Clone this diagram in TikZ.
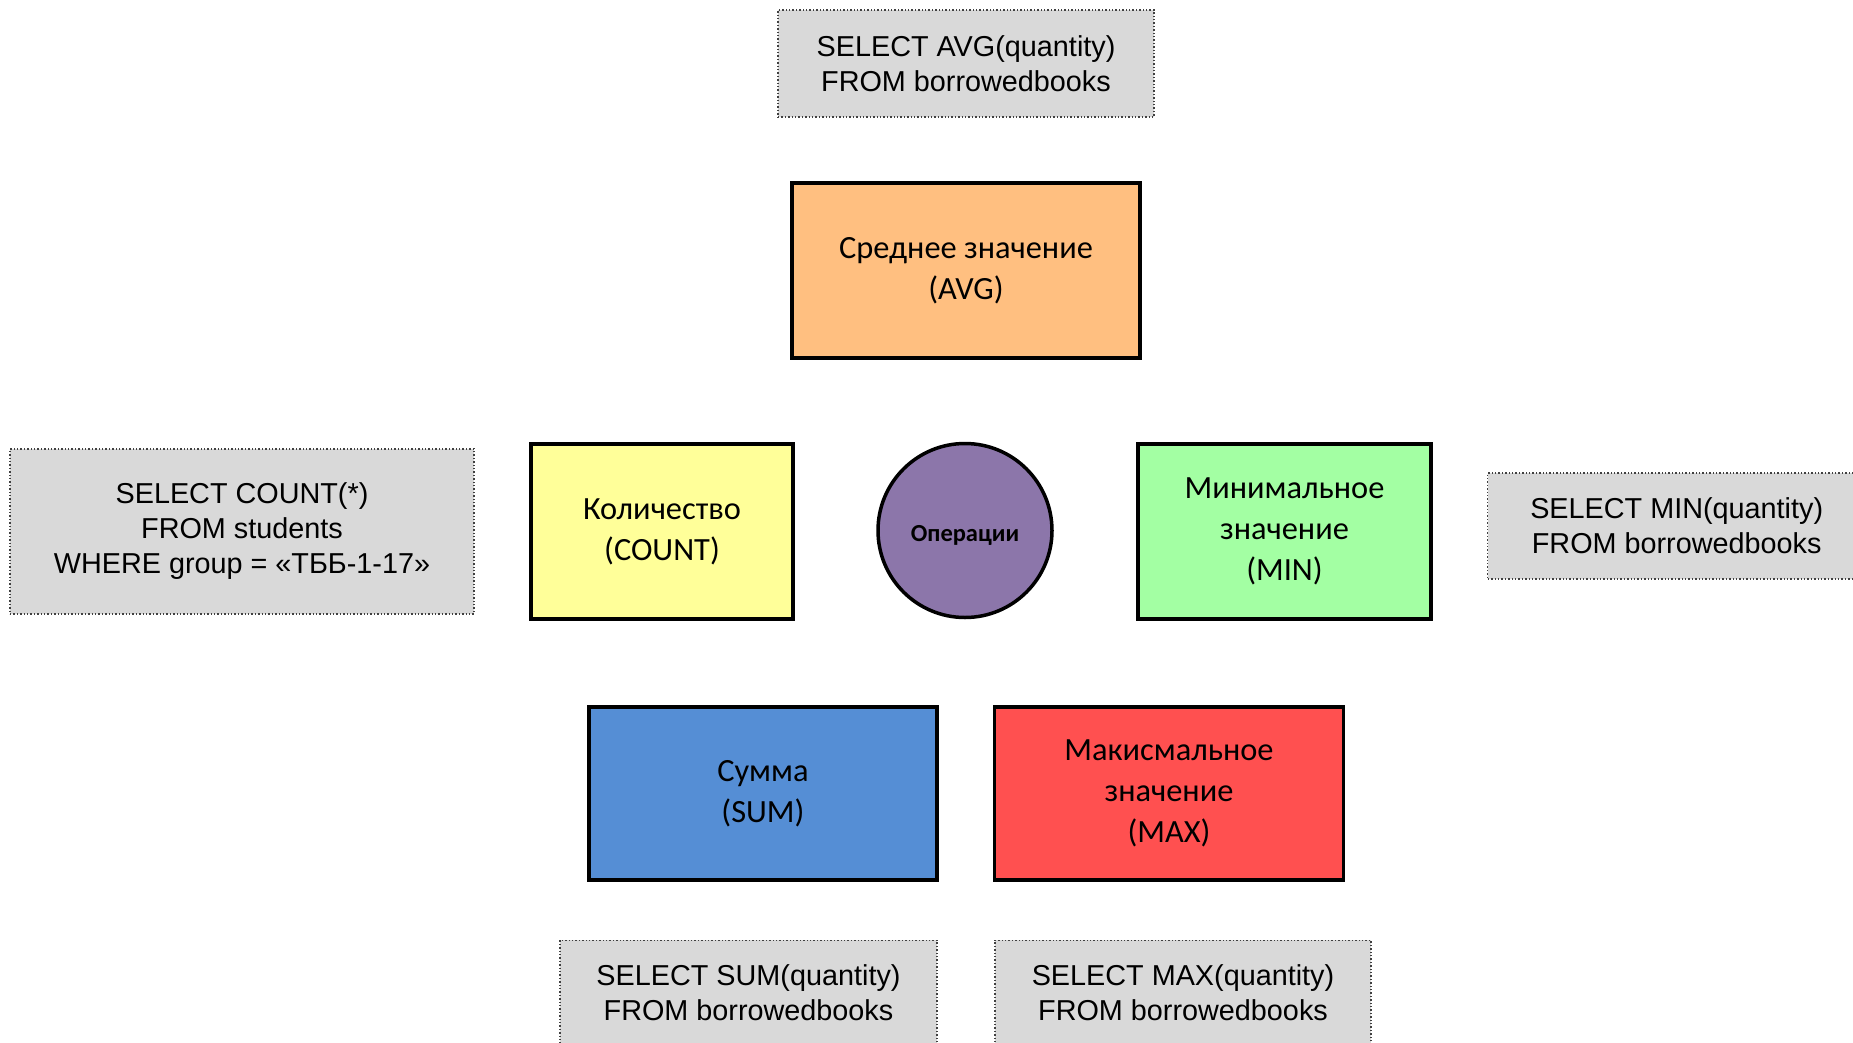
\documentclass[tikz,border=0pt]{standalone}
\usepackage{fontspec}
\setmainfont{Carlito}
\newfontfamily\sqlfont{Liberation Sans}
\usetikzlibrary{positioning}

\definecolor{avgfill}{HTML}{FFBF80}
\definecolor{countfill}{HTML}{FFFF99}
\definecolor{minfill}{HTML}{A3FFA3}
\definecolor{sumfill}{HTML}{558ED5}
\definecolor{maxfill}{HTML}{FF5050}
\definecolor{opfill}{HTML}{8C76AA}
\definecolor{sqlfill}{HTML}{D9D9D9}
\definecolor{sqledge}{HTML}{404040}

\tikzset{
  opbox/.style={draw=black, line width=3.5pt, rectangle, align=center,
    font=\fontsize{32.4}{41}\selectfont, inner sep=0pt},
  sqlbox/.style={draw=sqledge, dotted, line width=1.4pt, fill=sqlfill,
    rectangle, align=center, font=\sqlfont\fontsize{28.8}{35}\selectfont,
    inner sep=0pt},
  hub/.style={draw=black, line width=3.5pt, circle, fill=opfill,
    minimum size=174pt, inner sep=0pt}
}

\begin{document}
\begin{tikzpicture}[x=1pt, y=-1pt]
  \useasboundingbox (0,0) rectangle (1853,1042);

  % central hub
  \node[hub] (ops) at (965,530.5) {};
  \node[font=\bfseries\fontsize{24.5}{28}\selectfont, inner sep=0pt]
    (opslabel) at (965,535) {Операции};

  % aggregate functions
  \node[opbox, fill=avgfill, minimum width=348pt, minimum height=175pt]
    (avg) at (966,270.5) {Среднее значение\\(AVG)};
  \node[opbox, fill=countfill, minimum width=262pt, minimum height=175pt]
    (count) at (662,531.5) {Количество\\(COUNT)};
  \node[opbox, fill=minfill, minimum width=293pt, minimum height=175pt]
    (min) at (1284.5,531.5) {Минимальное\\значение\\(MIN)};
  \node[opbox, fill=sumfill, minimum width=348pt, minimum height=173pt]
    (sum) at (763,793.5) {Сумма\\(SUM)};
  \node[opbox, fill=maxfill, minimum width=349pt, minimum height=173pt]
    (max) at (1169,793.5) {Макисмальное\\значение\\(MAX)};

  % example queries
  \node[sqlbox, minimum width=376pt, minimum height=107pt]
    (qavg) at (966,63.5) {SELECT AVG(quantity)\\FROM borrowedbooks};
  \node[sqlbox, minimum width=464pt, minimum height=165pt]
    (qcount) at (242,531.5) {SELECT COUNT(*)\\FROM students\\WHERE group = «ТББ-1-17»};
  \node[sqlbox, minimum width=378pt, minimum height=106pt, anchor=west]
    (qmin) at (1487,526) {SELECT MIN(quantity)\\FROM borrowedbooks};
  \node[sqlbox, minimum width=377pt, minimum height=140pt, anchor=north,
    text depth=36pt]
    (qsum) at (748.5,939.5) {SELECT SUM(quantity)\\FROM borrowedbooks};
  \node[sqlbox, minimum width=376pt, minimum height=140pt, anchor=north,
    text depth=36pt]
    (qmax) at (1183,939.5) {SELECT MAX(quantity)\\FROM borrowedbooks};
\end{tikzpicture}
\end{document}
